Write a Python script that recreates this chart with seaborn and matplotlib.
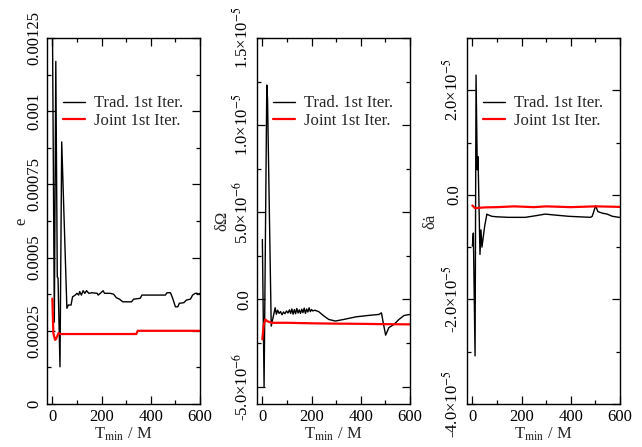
import numpy as np
import pandas as pd
import matplotlib
matplotlib.use("Agg")
import matplotlib.pyplot as plt
import seaborn as sns
from matplotlib.ticker import MultipleLocator, FixedLocator, FixedFormatter

# ---------------- data ----------------
series_labels = ["Trad. 1st Iter.", "Joint 1st Iter."]

# panel 1 : e
t_trad_e = [0, 8, 14, 20, 23, 31, 38, 59, 65, 76, 82, 93, 100, 107, 111, 118, 125, 132, 139,
            148, 161, 182, 186, 195, 206, 212, 235, 249, 260, 273, 286, 322, 330, 357, 364,
            459, 466, 480, 489, 500, 510, 516, 534, 545, 561, 570, 581, 588, 595, 600]
trad_e = [1.35e-3, 2.8e-4, 1.17e-3, 4.34e-4, 4.30e-4, 1.27e-4, 8.95e-4, 3.27e-4, 3.38e-4, 3.38e-4,
          3.66e-4, 3.72e-4, 3.78e-4, 3.72e-4, 3.84e-4, 3.72e-4, 3.87e-4, 3.78e-4, 3.87e-4,
          3.78e-4, 3.80e-4, 3.78e-4, 3.72e-4, 3.78e-4, 3.87e-4, 3.78e-4, 3.78e-4, 3.75e-4,
          3.63e-4, 3.58e-4, 3.49e-4, 3.49e-4, 3.58e-4, 3.61e-4, 3.72e-4, 3.72e-4, 3.80e-4,
          3.80e-4, 3.61e-4, 3.32e-4, 3.32e-4, 3.44e-4, 3.46e-4, 3.55e-4, 3.58e-4, 3.72e-4,
          3.78e-4, 3.78e-4, 3.75e-4, 3.78e-4]
t_joint_e = [0, 4, 11, 15, 25, 31, 100, 200, 300, 341, 347, 400, 500, 600]
joint_e = [3.6e-4, 2.42e-4, 2.19e-4, 2.22e-4, 2.42e-4, 2.39e-4, 2.39e-4, 2.39e-4, 2.39e-4,
           2.39e-4, 2.50e-4, 2.50e-4, 2.50e-4, 2.50e-4]

# panel 2 : delta Omega
t_trad_om = [0, 7, 18, 21, 36, 52, 57, 62, 68, 74, 80, 86, 92, 98, 104, 110, 115, 120, 125,
             130, 135, 140, 145, 150, 155, 160, 165, 170, 175, 180, 185, 190, 195, 200, 205,
             213, 229, 250, 270, 297, 330, 380, 430, 474, 484, 492, 501, 514, 535, 555, 576, 600]
trad_om = [3.44e-6, -5.0e-6, 1.23e-5, 1.15e-5, -1.53e-6, -0.48e-6, -0.85e-6, -0.62e-6, -0.80e-6,
           -0.70e-6, -0.88e-6, -0.72e-6, -0.82e-6, -0.66e-6, -0.78e-6, -0.60e-6, -0.80e-6,
           -0.55e-6, -0.85e-6, -0.58e-6, -0.82e-6, -0.52e-6, -0.78e-6, -0.60e-6, -0.80e-6,
           -0.56e-6, -0.76e-6, -0.50e-6, -0.80e-6, -0.55e-6, -0.72e-6, -0.48e-6, -0.70e-6,
           -0.58e-6, -0.66e-6, -0.62e-6, -0.70e-6, -0.95e-6, -1.15e-6, -1.24e-6, -1.15e-6,
           -1.0e-6, -0.92e-6, -0.86e-6, -0.77e-6, -1.4e-6, -2.05e-6, -1.62e-6, -1.43e-6,
           -1.15e-6, -0.92e-6, -0.86e-6]
t_joint_om = [0, 5, 12, 20, 38, 100, 200, 300, 400, 500, 600]
joint_om = [-2.29e-6, -1.5e-6, -1.15e-6, -1.25e-6, -1.34e-6, -1.34e-6, -1.37e-6, -1.39e-6,
            -1.40e-6, -1.42e-6, -1.43e-6]

# panel 3 : delta a-dot
t_trad_ad = [0, 4, 11, 15, 20, 23, 31, 35, 39, 50, 59, 63, 79, 100, 147, 215, 256, 296, 337,
             391, 480, 487, 501, 510, 528, 548, 569, 596, 600]
trad_ad = [-9.8e-6, -7.3e-6, -3.08e-5, 2.29e-5, 4.8e-6, 7.3e-6, -1.14e-5, -6.7e-6, -1.0e-5,
           -6.0e-6, -3.68e-6, -3.8e-6, -4.1e-6, -4.2e-6, -4.3e-6, -4.3e-6, -4.0e-6, -3.68e-6,
           -3.87e-6, -4.1e-6, -4.3e-6, -4.1e-6, -2.1e-6, -3.2e-6, -3.5e-6, -3.68e-6, -4.1e-6,
           -4.3e-6, -4.3e-6]
t_joint_ad = [0, 11, 50, 100, 170, 250, 300, 400, 500, 600]
joint_ad = [-2.03e-6, -2.54e-6, -2.4e-6, -2.35e-6, -2.2e-6, -2.35e-6, -2.2e-6, -2.35e-6,
            -2.2e-6, -2.3e-6]

# tick labels
e_ticks = [0, 0.00025, 0.0005, 0.00075, 0.001, 0.00125]
e_ticklabels = ["0", "0.00025", "0.0005", "0.00075", "0.001", "0.00125"]
om_ticks = [-5e-6, 0, 5e-6, 1e-5, 1.5e-5]
om_ticklabels = ["-5.0\u00d710$^{-6}$", "0.0", "5.0\u00d710$^{-6}$", "1.0\u00d710$^{-5}$",
                 "1.5\u00d710$^{-5}$"]
ad_ticks = [-4e-5, -2e-5, 0, 2e-5]
ad_ticklabels = ["-4.0\u00d710$^{-5}$", "-2.0\u00d710$^{-5}$", "0.0", "2.0\u00d710$^{-5}$"]
x_ticks = [0, 200, 400, 600]
y_names = ["e", "\u03b4\u03a9", "\u03b4\u0227"]

# ---------------- style ----------------
sns.set_theme(style="ticks")
plt.rcParams["font.family"] = ["Liberation Serif", "DejaVu Serif"]
plt.rcParams["mathtext.fontset"] = "stix"
plt.rcParams["axes.unicode_minus"] = False
plt.rcParams["axes.edgecolor"] = "black"
plt.rcParams["axes.linewidth"] = 1.0

fig = plt.figure(figsize=(6.42, 4.47), dpi=100)
W, H = 642, 447
lefts = [46.7, 256.7, 466.7]
ax_w, top, bottom = 153.3, 38, 404

panels = [
    (t_trad_e, trad_e, t_joint_e, joint_e, (0, 0.00125), e_ticks, e_ticklabels, 0.000125, -0.116),
    (t_trad_om, trad_om, t_joint_om, joint_om, (-6e-6, 1.5e-5), om_ticks, om_ticklabels, 2.5e-6, -0.174),
    (t_trad_ad, trad_ad, t_joint_ad, joint_ad, (-4e-5, 3e-5), ad_ticks, ad_ticklabels, 1e-5, -0.183),
]

for i, (tt, yt, tj, yj, ylim, yticks, ylabs, yminor, ylab_x) in enumerate(panels):
    ax = fig.add_axes([lefts[i] / W, 1 - bottom / H, ax_w / W, (bottom - top) / H])
    df_t = pd.DataFrame({"T": tt, "v": yt})
    df_j = pd.DataFrame({"T": tj, "v": yj})
    sns.lineplot(data=df_t, x="T", y="v", ax=ax, color="black", lw=1.0,
                 label=series_labels[0], estimator=None)
    sns.lineplot(data=df_j, x="T", y="v", ax=ax, color="#ff0000", lw=1.6,
                 label=series_labels[1], estimator=None)
    ax.set_xlim(-23, 600)
    ax.set_ylim(*ylim)
    ax.xaxis.set_major_locator(FixedLocator(x_ticks))
    ax.xaxis.set_minor_locator(MultipleLocator(100))
    ax.yaxis.set_major_locator(FixedLocator(yticks))
    ax.yaxis.set_major_formatter(FixedFormatter(ylabs))
    ax.yaxis.set_minor_locator(MultipleLocator(yminor))
    ax.tick_params(which="both", direction="in", top=True, right=True, color="black",
                   width=0.9, labelsize=12, labelcolor="black")
    ax.tick_params(which="major", length=6)
    ax.tick_params(which="minor", length=3)
    ax.tick_params(axis="y", pad=3.4)
    ax.tick_params(axis="x", pad=3.5)
    for lab in ax.get_yticklabels():
        lab.set_rotation(90)
        lab.set_va("center")
    ax.set_xlabel("T$_{\\mathrm{min}}$ / M", fontsize=12, labelpad=0.5)
    ax.set_ylabel(y_names[i], fontsize=12)
    ax.yaxis.set_label_coords(ylab_x, 0.5)
    for s in ax.spines.values():
        s.set_color("black")
        s.set_linewidth(1.0)
    ax.legend(loc="upper left", bbox_to_anchor=(0.105, 0.843), frameon=False, borderpad=0,
              handlelength=1.35, handletextpad=0.5, labelspacing=0.1, fontsize=12,
              borderaxespad=0)

fig.savefig("out.png", dpi=100)
